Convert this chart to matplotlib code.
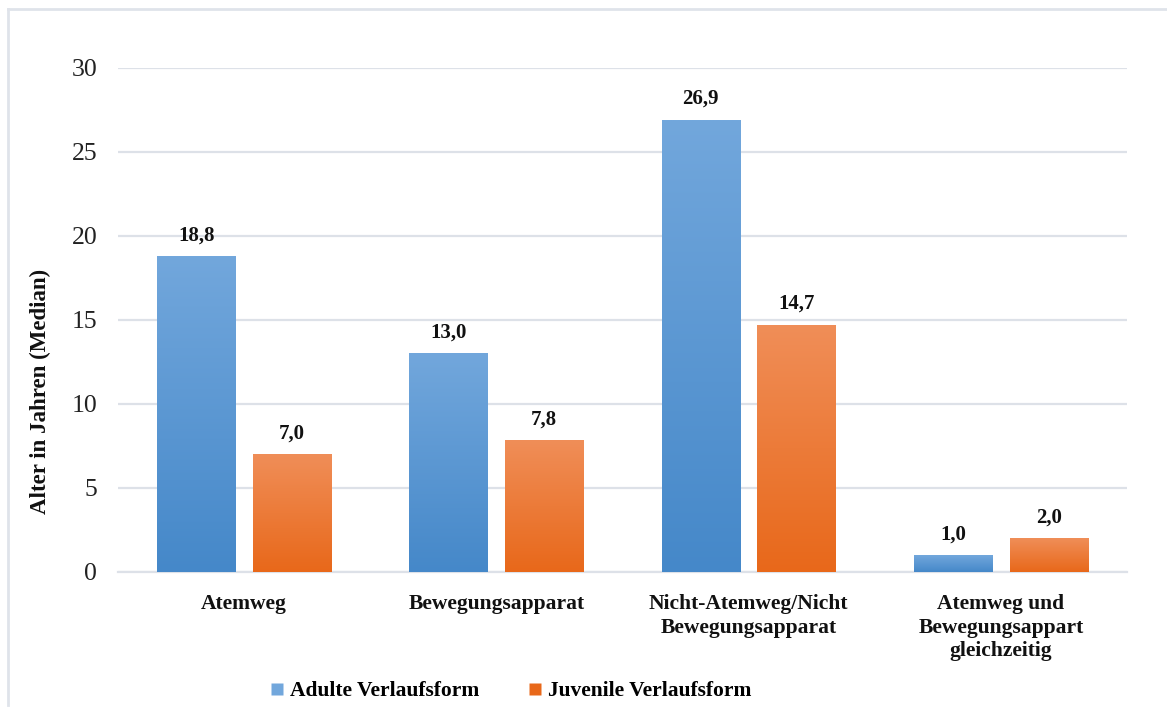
import matplotlib
matplotlib.use("Agg")
import matplotlib.pyplot as plt
import numpy as np
from matplotlib.lines import Line2D
from matplotlib.colors import to_rgb

categories = ["Atemweg", "Bewegungsapparat", "Nicht-Atemweg/Nicht\nBewegungsapparat",
              "Atemweg und\nBewegungsappart\ngleichzeitig"]
adult = [18.8, 13.0, 26.9, 1.0]
juvenile = [7.0, 7.8, 14.7, 2.0]
series_names = ["Adulte Verlaufsform", "Juvenile Verlaufsform"]
yticks = [0, 5, 10, 15, 20, 25, 30]

plt.rcParams['font.family'] = ['Liberation Serif', 'DejaVu Serif']

W, H = 1167, 707
fig = plt.figure(figsize=(W/100, H/100), dpi=100)
ax = fig.add_axes([118/W, 1-572/H, (1127-118)/W, (572-68)/H])

blue_top, blue_bot = "#72a7dc", "#4588c9"
orng_top, orng_bot = "#f08e58", "#e8681a"

x = np.arange(len(categories))
bw = 0.31
off = 0.19
b1 = ax.bar(x - off, adult, bw, color=blue_bot, zorder=2)
b2 = ax.bar(x + off, juvenile, bw, color=orng_bot, zorder=2)

def grad(bars, top, bot):
    t = np.array(to_rgb(top)); b = np.array(to_rgb(bot))
    for p in bars:
        n = 256
        f = np.linspace(0, 1, n)[:, None]
        img = (t[None, :] * (1 - f) + b[None, :] * f)[:, None, :]
        ax.imshow(img, extent=(p.get_x(), p.get_x() + p.get_width(), 0, p.get_height()),
                  aspect='auto', zorder=3, interpolation='bilinear')

grad(b1, blue_top, blue_bot)
grad(b2, orng_top, orng_bot)

for bars, vals in ((b1, adult), (b2, juvenile)):
    for p, v in zip(bars, vals):
        ax.annotate(f"{v:.1f}".replace(".", ","), (p.get_x() + p.get_width()/2, p.get_height()),
                    xytext=(0, 11), textcoords='offset pixels', ha='center', va='bottom',
                    fontsize=15, fontweight='bold', color='#111111')

ax.set_xlim(-0.5, 3.5)
ax.set_ylim(0, 30)
ax.set_yticks(yticks)
ax.set_yticklabels([str(v) for v in yticks], fontsize=18.5, color='#222222')
ax.set_xticks(x)
ax.set_xticklabels(categories, fontsize=15.5, fontweight='bold', linespacing=1.22, color='#111111')
ax.tick_params(axis='both', length=0)
ax.tick_params(axis='y', pad=15)
ax.tick_params(axis='x', pad=16)
ax.grid(axis='y', color='#dde1e8', linewidth=1.6, zorder=0)
ax.set_axisbelow(True)
for s in ['top', 'right', 'left']:
    ax.spines[s].set_visible(False)
ax.spines['bottom'].set_color('#dde1e8')
ax.spines['bottom'].set_linewidth(1.6)

fig.text(40/W, 1-391/H, "Alter in Jahren (Median)", rotation=90, ha='center', va='center',
         fontsize=16.5, fontweight='bold', color='#111111')

handles = [Line2D([], [], marker='s', linestyle='none', markersize=8, color=blue_top, markeredgecolor='none'),
           Line2D([], [], marker='s', linestyle='none', markersize=8, color=orng_bot, markeredgecolor='none')]
leg = fig.legend(handles, series_names, loc='center', bbox_to_anchor=(511/W, 1-691/H), ncol=2,
                 frameon=False, handlelength=0.6, handletextpad=0.3, columnspacing=2.3,
                 prop={'family': 'Liberation Serif', 'weight': 'bold', 'size': 15.5})

# outer frame (partial, as in the screenshot)
fig.add_artist(Line2D([8/W, 8/W], [1-705/H, 1-9/H], transform=fig.transFigure, color='#dfe3ea', lw=2))
fig.add_artist(Line2D([8/W, 1], [1-9/H, 1-9/H], transform=fig.transFigure, color='#dfe3ea', lw=2))

fig.savefig("out.png", dpi=100)
